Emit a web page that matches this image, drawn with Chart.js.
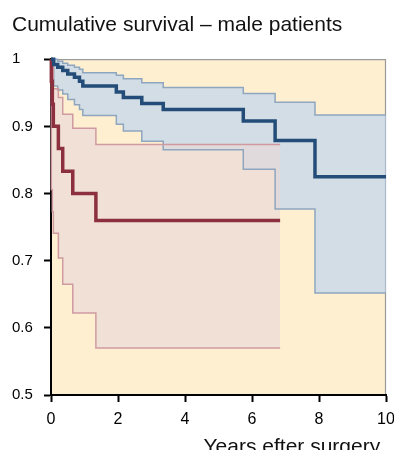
<!DOCTYPE html>
<html>
<head>
<meta charset="utf-8">
<script src="https://cdn.jsdelivr.net/npm/chart.js@4.4.1/dist/chart.umd.min.js"></script>
<style>
  html, body { margin: 0; padding: 0; background: #fff; }
  #wrap { width: 394px; height: 450px; position: relative; }
</style>
</head>
<body>
<div id="wrap"><canvas id="survivalChart"></canvas></div>
<script>
// Kaplan-Meier estimates (years, survival)
const blueX  = [0, 0.08, 0.2, 0.35, 0.5, 0.7, 0.85, 0.95, 1.95, 2.16, 2.71, 3.35, 5.74, 6.69, 7.88, 10];
const blueS  = [1, 0.992, 0.988, 0.983, 0.978, 0.973, 0.967, 0.96, 0.951, 0.943, 0.934, 0.925, 0.908, 0.879, 0.825, 0.825];
const blueHi = [1, 1, 0.997, 0.994, 0.991, 0.988, 0.985, 0.98, 0.976, 0.971, 0.965, 0.958, 0.949, 0.936, 0.917, 0.917];
const blueLo = [1, 0.96, 0.954, 0.948, 0.94, 0.932, 0.925, 0.916, 0.903, 0.893, 0.878, 0.865, 0.836, 0.777, 0.652, 0.652];

const redX  = [0, 0.01, 0.04, 0.07, 0.22, 0.35, 0.65, 1.34, 6.84];
const redS  = [1, 0.967, 0.933, 0.9, 0.867, 0.833, 0.8, 0.76, 0.76];
const redHi = [1, 1, 1, 0.956, 0.943, 0.918, 0.897, 0.873, 0.873];
const redLo = [1, 0.806, 0.773, 0.741, 0.704, 0.665, 0.622, 0.57, 0.57];

const xTickValues = [0, 2, 4, 6, 8, 10];
const xTickLabels = ['0', '2', '4', '6', '8', '10'];
const yTickValues = [0.5, 0.6, 0.7, 0.8, 0.9, 1];
const yTickLabels = ['0.5', '0.6', '0.7', '0.8', '0.9', '1'];

const FONT = "'Liberation Sans', Arial, Helvetica, sans-serif";

function pts(xs, ys) {
    return xs.map((x, i) => ({ x: x, y: ys[i] }));
}

function tickText(values, labels, v) {
    const i = values.findIndex(t => Math.abs(t - v) < 1e-6);
    return i >= 0 ? labels[i] : '';
}

// cream plot background plus the thin grey frame on top and right
const plotFrame = {
    id: 'plotFrame',
    beforeDraw(chart) {
        const { ctx, chartArea: a } = chart;
        ctx.save();
        ctx.fillStyle = '#feefd1';
        ctx.fillRect(a.left, a.top, a.right - a.left, a.bottom - a.top);
        ctx.strokeStyle = '#9b9b9b';
        ctx.lineWidth = 1.2;
        ctx.beginPath();
        ctx.moveTo(a.left, a.top + 0.5);
        ctx.lineTo(a.right - 0.5, a.top + 0.5);
        ctx.lineTo(a.right - 0.5, a.bottom);
        ctx.stroke();
        ctx.restore();
    }
};

const line = (data, color, width, extra) => Object.assign({
    data: data,
    borderColor: color,
    borderWidth: width,
    stepped: true,
    pointRadius: 0,
    fill: false,
    clip: 4
}, extra || {});

new Chart(document.getElementById('survivalChart'), {
    type: 'line',
    data: {
        datasets: [
            line(pts(blueX, blueS), '#234d78', 3.5),
            line(pts(redX, redS), '#8c3040', 3.5),
            line(pts(redX, redHi), '#cf9aa1', 1.5, { fill: '+1', backgroundColor: 'rgba(233,216,216,0.64)' }),
            line(pts(redX, redLo), '#cf9aa1', 1.5),
            line(pts(blueX, blueHi), '#8ea6bf', 1.5, { fill: '+1', backgroundColor: 'rgba(182,208,242,0.6)' }),
            line(pts(blueX, blueLo), '#8ea6bf', 1.5)
        ]
    },
    options: {
        responsive: true,
        maintainAspectRatio: false,
        animation: false,
        layout: { padding: { left: 12, right: 0, top: 0, bottom: 0 } },
        plugins: {
            legend: { display: false },
            tooltip: { enabled: false },
            filler: { drawTime: 'beforeDatasetsDraw' },
            title: {
                display: true,
                text: 'Cumulative survival \u2013 male patients',
                align: 'start',
                color: '#111',
                font: { family: FONT, size: 21, weight: 'normal' },
                padding: { top: 13, bottom: 21 }
            }
        },
        scales: {
            x: {
                type: 'linear',
                min: 0,
                max: 10,
                afterFit: (s) => { s.height = 55; s.paddingRight = 8; },
                border: { display: true, color: '#000', width: 2 },
                grid: { drawOnChartArea: false, drawTicks: true, tickLength: 7, tickColor: '#000', tickWidth: 2 },
                ticks: {
                    stepSize: 2,
                    padding: 8,
                    color: '#000',
                    font: { family: FONT, size: 16 },
                    callback: (v) => tickText(xTickValues, xTickLabels, v)
                },
                title: {
                    display: true,
                    text: 'Years efter surgery ',
                    align: 'end',
                    color: '#111',
                    font: { family: FONT, size: 21, lineHeight: 0.3 },
                    padding: 0
                }
            },
            y: {
                min: 0.5,
                max: 1,
                afterFit: (s) => { s.width = 39; },
                border: { display: true, color: '#000', width: 2 },
                grid: { drawOnChartArea: false, drawTicks: true, tickLength: 7, tickColor: '#000', tickWidth: 2 },
                ticks: {
                    stepSize: 0.1,
                    crossAlign: 'far',
                    color: '#000',
                    font: { family: FONT, size: 15 },
                    callback: (v) => tickText(yTickValues, yTickLabels, v)
                }
            }
        }
    },
    plugins: [plotFrame]
});
</script>
</body>
</html>
